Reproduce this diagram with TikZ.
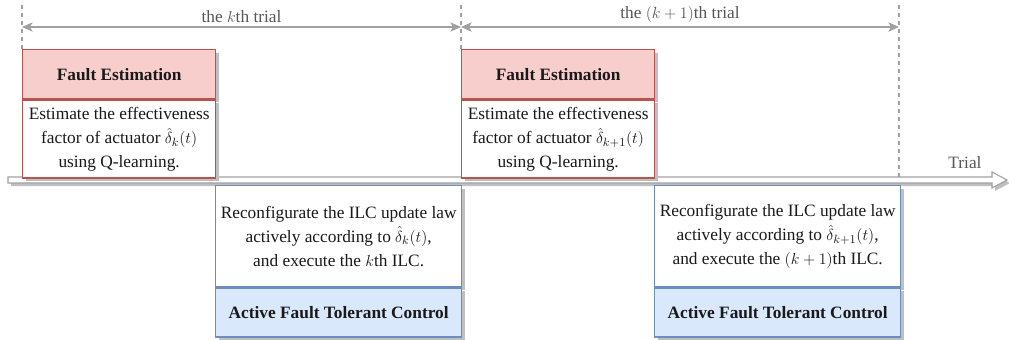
\documentclass[tikz,border=0pt]{standalone}
\usepackage{fontspec}
\setmainfont{Liberation Serif}
\usetikzlibrary{arrows.meta, positioning, shadows}
\definecolor{fefill}{HTML}{F8CECC}
\definecolor{feline}{HTML}{B85450}
\definecolor{aftcfill}{HTML}{DAE8FC}
\definecolor{aftcline}{HTML}{6C8EBF}
\definecolor{guide}{HTML}{A0A0A0}
\definecolor{labeltext}{HTML}{555555}

\begin{document}
\begin{tikzpicture}[x=0.75pt, y=-0.75pt,
        every node/.style={font=\fontsize{13}{18}\selectfont, align=center, inner sep=0pt, text=black!90},
        boxshadow/.style={drop shadow={shadow xshift=2.25pt, shadow yshift=-2.25pt, fill=black!25, opacity=1}},
        fehead/.style={draw=feline, fill=fefill, line width=1pt, boxshadow, minimum width=144.75pt, minimum height=36.75pt, font=\fontsize{13}{18}\selectfont\bfseries},
        febody/.style={draw=feline, fill=white, line width=1pt, boxshadow, minimum width=144.75pt, minimum height=58.5pt},
        aftcbody/.style={draw=aftcline, fill=white, line width=1pt, boxshadow, minimum width=184.5pt, minimum height=75.75pt},
        aftchead/.style={draw=aftcline, fill=aftcfill, line width=1pt, boxshadow, minimum width=184.5pt, minimum height=36.75pt, font=\fontsize{13}{18}\selectfont\bfseries},
        guideline/.style={draw=guide, dashed, thick},
        dimarr/.style={{Stealth[length=8pt, width=7pt, inset=2pt]}-{Stealth[length=8pt, width=7pt, inset=2pt]}, guide, thick},
        trialarrow/.style={draw=guide, thick, fill=white, drop shadow={shadow xshift=2.25pt, shadow yshift=-2.25pt, fill=black!25, opacity=1}},
        dimlabel/.style={text=labeltext},
    ]
    \useasboundingbox (0,0) rectangle (1009,339);

    % trial boundaries
    \coordinate (t0top) at (22,5);
    \coordinate (t1top) at (461,5);
    \coordinate (t2top) at (899,5);
    \coordinate (t0) at (22,27);
    \coordinate (t1) at (461,27);
    \coordinate (t2) at (899,27);
    \draw[guideline] (t0top) -- (22,49);
    \draw[guideline] (t1top) -- (461,49);
    \draw[guideline] (t2top) -- (899,177);

    \draw[dimarr] (t0) -- node[dimlabel, above=3pt] {the $k$th trial} (t1);
    \draw[dimarr] (t1) -- node[dimlabel, above=3pt] {the $(k+1)$th trial} (t2);

    % time axis
    \draw[trialarrow] (8,177) -- (992,177) -- (992,172) -- (1007,180) -- (992,188) -- (992,183) -- (8,183) -- cycle;
    \node[dimlabel] (trial) at (965,163) {Trial};

    % kth trial
    \node[fehead, anchor=north west] (fe1) at (22,49) {Fault Estimation};
    \node[febody, below=0pt of fe1] (fe1text) {Estimate the effectiveness\\factor of actuator $\hat{\delta}_k(t)$\\using Q-learning.};
    \node[aftcbody, anchor=north west] (aftc1text) at (215,185) {Reconfigurate the ILC update law\\actively according to $\hat{\delta}_k(t)$,\\and execute the $k$th ILC.};
    \node[aftchead, below=0pt of aftc1text] (aftc1) {Active Fault Tolerant Control};

    % (k+1)th trial
    \node[fehead, anchor=north west] (fe2) at (461,49) {Fault Estimation};
    \node[febody, below=0pt of fe2] (fe2text) {Estimate the effectiveness\\factor of actuator $\hat{\delta}_{k+1}(t)$\\using Q-learning.};
    \node[aftcbody, anchor=north west] (aftc2text) at (654,185) {Reconfigurate the ILC update law\\actively according to $\hat{\delta}_{k+1}(t)$,\\and execute the $(k+1)$th ILC.};
    \node[aftchead, below=0pt of aftc2text] (aftc2) {Active Fault Tolerant Control};
\end{tikzpicture}
\end{document}
